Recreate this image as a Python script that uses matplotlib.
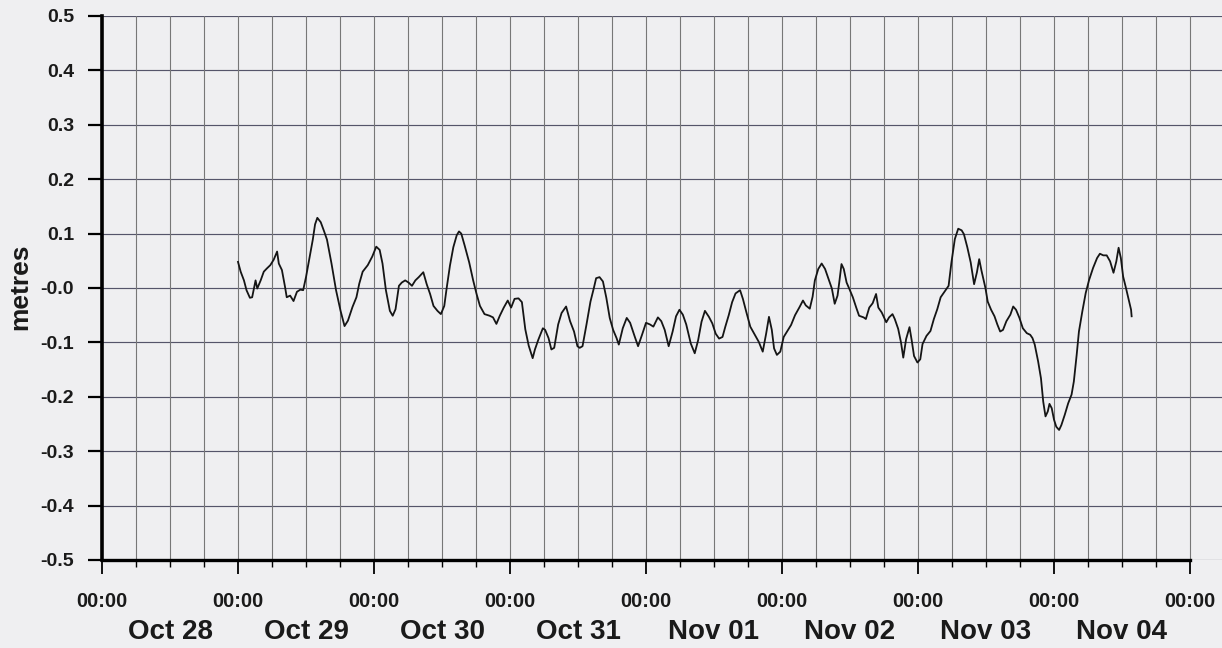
import matplotlib
matplotlib.use("Agg")
import matplotlib.pyplot as plt
import matplotlib.transforms as mtransforms
import numpy as np

plt.rcParams['font.family'] = ['Liberation Sans', 'DejaVu Sans']

# ---- data: hours since Oct 29 00:00, residual in metres ----
hours_from_oct29 = [
    0.0, 0.47, 1.05, 1.5, 2.1, 2.5, 3.1, 3.4, 4.0, 4.55, 5.1, 5.7, 6.3, 6.9, 7.2, 7.75,
    8.3, 8.6, 9.2, 9.8, 10.4, 11.0, 11.5, 12.0, 12.6, 13.2, 13.6, 14.0, 14.6, 15.2,
    15.7, 16.5, 17.3, 18.1, 18.8, 19.4, 20.2, 20.9, 21.4, 22.0, 22.9, 23.7, 24.4,
    25.0, 25.5, 26.1,
    26.8, 27.3, 27.8, 28.4, 28.9, 29.5, 30.1, 30.7, 31.3, 31.9, 32.7, 33.3, 33.9,
    34.5, 35.2, 35.8, 36.4, 36.8, 37.4, 38.0, 38.6, 39.0, 39.4, 40.0, 40.8, 41.5,
    42.1, 42.7, 43.5, 44.4, 45.0, 45.6, 46.2, 46.9, 47.6, 48.2, 48.8, 49.5, 50.1,
    50.7, 51.3,
    52.0, 52.4, 53.0, 53.8, 54.2, 54.8, 55.3, 55.8, 56.5, 57.1, 57.9, 58.6, 59.3,
    59.9, 60.3, 60.8, 61.5, 62.2, 62.8, 63.2, 63.8, 64.4, 65.0, 65.6, 66.2, 66.8,
    67.2, 67.9, 68.6, 69.2, 70.0, 70.6, 71.3, 72.0, 72.7, 73.3, 74.1, 74.7, 75.3,
    76.0, 76.7, 77.3, 77.9, 78.5, 79.1,
    79.9, 80.6, 81.2, 81.8, 82.4, 83.1, 83.7, 84.3, 84.9, 85.5, 86.0, 86.6, 87.2,
    87.8, 88.6, 89.1, 89.7, 90.4, 91.1, 91.9, 92.6, 93.2, 93.7, 94.2, 94.6, 95.1,
    95.7, 96.3, 96.9, 97.6, 98.3, 99.1, 99.7, 100.2, 100.9, 101.4, 101.8, 102.4,
    103.0, 103.6, 104.2, 104.8,
    105.3, 105.8, 106.1, 106.5, 106.9, 107.4, 107.9, 108.5, 109.1, 109.6, 110.4,
    110.8, 111.4, 112.0, 112.6, 113.0, 113.6, 114.4, 114.9, 115.5, 115.9, 116.5,
    117.0, 117.4, 117.9, 118.5, 118.9, 119.3, 119.9, 120.4, 120.8, 121.5, 122.2,
    122.8, 123.4, 124.0, 124.6, 125.4, 125.9, 126.5, 127.1, 127.7, 128.1, 128.7,
    129.3, 129.9, 130.4, 130.8, 131.2,
    131.9, 132.3, 132.9, 133.5, 134.0, 134.5, 135.0, 135.6, 136.3, 136.8, 137.3,
    137.9, 138.5, 139.2, 139.8, 140.2, 140.6, 141.2, 141.7, 142.1, 142.5, 142.9,
    143.2, 143.6, 144.0, 144.4, 144.9, 145.3, 145.9, 146.5, 147.1, 147.5, 148.0,
    148.4, 149.0, 149.6, 150.2, 150.9, 151.6, 152.1, 152.7, 153.3, 153.9, 154.5,
    155.0, 155.4, 155.8, 156.2, 156.7, 157.1, 157.6, 157.7,
]
residual_m = [
    0.048, 0.030, 0.014, -0.004, -0.018, -0.017, 0.014, -0.001, 0.014, 0.030, 0.036,
    0.042, 0.052, 0.067, 0.045, 0.033, 0.002, -0.017, -0.014, -0.024, -0.007, -0.003,
    -0.004, 0.020, 0.055, 0.089, 0.117, 0.129, 0.121, 0.104, 0.089, 0.045, -0.004,
    -0.042, -0.070, -0.060, -0.035, -0.017, 0.008, 0.030, 0.042, 0.058, 0.076,
    0.070, 0.045, -0.004,
    -0.042, -0.051, -0.039, 0.004, 0.010, 0.014, 0.010, 0.004, 0.014, 0.020, 0.029,
    0.007, -0.011, -0.033, -0.042, -0.048, -0.033, -0.002, 0.041, 0.075, 0.097,
    0.104, 0.100, 0.078, 0.047, 0.014, -0.011, -0.033, -0.048, -0.051, -0.054,
    -0.066, -0.051, -0.036, -0.023, -0.036, -0.020, -0.019, -0.026, -0.076, -0.106,
    -0.129, -0.113, -0.095, -0.074, -0.077, -0.092, -0.113, -0.110, -0.067, -0.046,
    -0.034, -0.061, -0.080, -0.107, -0.110, -0.107, -0.067, -0.025, 0.000, 0.018,
    0.020, 0.012, -0.018, -0.055, -0.077, -0.092, -0.104, -0.074, -0.055, -0.064,
    -0.089, -0.107, -0.086, -0.064, -0.067, -0.071, -0.054, -0.061, -0.077, -0.107,
    -0.080, -0.052, -0.040, -0.049, -0.067,
    -0.102, -0.120, -0.096, -0.062, -0.042, -0.053, -0.065, -0.084, -0.093, -0.090,
    -0.071, -0.050, -0.026, -0.010, -0.004, -0.020, -0.044, -0.071, -0.084, -0.099,
    -0.117, -0.084, -0.053, -0.077, -0.111, -0.123, -0.117, -0.090, -0.080, -0.068,
    -0.050, -0.035, -0.023, -0.032, -0.038, -0.016, 0.014, 0.035, 0.045, 0.035,
    0.017, -0.001,
    -0.029, -0.014, 0.010, 0.044, 0.035, 0.010, -0.002, -0.017, -0.036, -0.051,
    -0.054, -0.057, -0.036, -0.028, -0.011, -0.036, -0.045, -0.063, -0.054, -0.048,
    -0.057, -0.075, -0.100, -0.128, -0.094, -0.072, -0.097, -0.125, -0.137, -0.131,
    -0.103, -0.088, -0.079, -0.057, -0.039, -0.017, -0.008, 0.004, 0.047, 0.090,
    0.109, 0.106, 0.099, 0.075, 0.047, 0.007, 0.029, 0.053, 0.032,
    0.000, -0.025, -0.040, -0.052, -0.067, -0.080, -0.077, -0.061, -0.049, -0.034,
    -0.040, -0.055, -0.074, -0.083, -0.086, -0.092, -0.104, -0.135, -0.166, -0.209,
    -0.236, -0.227, -0.213, -0.221, -0.242, -0.255, -0.261, -0.252, -0.233, -0.212,
    -0.196, -0.172, -0.123, -0.080, -0.043, -0.009, 0.015, 0.037, 0.055, 0.063,
    0.060, 0.060, 0.049, 0.028, 0.049, 0.074, 0.055, 0.021, 0.000, -0.018, -0.040,
    -0.052,
]

day_labels = ["Oct 28", "Oct 29", "Oct 30", "Oct 31", "Nov 01", "Nov 02", "Nov 03", "Nov 04"]
y_ticks = [0.5, 0.4, 0.3, 0.2, 0.1, 0.0, -0.1, -0.2, -0.3, -0.4, -0.5]
y_tick_labels = ["0.5", "0.4", "0.3", "0.2", "0.1", "-0.0", "-0.1", "-0.2", "-0.3", "-0.4", "-0.5"]
time_tick_label = "00:00"

# x in days since Oct 28 00:00
x_days = 1.0 + np.asarray(hours_from_oct29) / 24.0
n_days = len(day_labels)

bg = "#efeff1"
fig = plt.figure(figsize=(12.22, 6.48), dpi=100, facecolor=bg)
W, H = 1222, 648
ax = fig.add_axes([102 / W, 1 - 560 / H, (1222 - 102) / W, (560 - 16) / H])
ax.set_facecolor(bg)

x_right = n_days * (1222 - 102) / (1190 - 102)
ax.set_xlim(0, x_right)
ax.set_ylim(-0.5, 0.5)

# gridlines
for yv in y_ticks:
    ax.axhline(yv, color="#55556a", lw=0.85, zorder=1)
six_hour = np.arange(0, n_days + 1e-9, 0.25)
for xv in six_hour:
    ax.axvline(xv, color="#777777", lw=0.8, zorder=1)

ax.plot(x_days, residual_m, color="#151515", lw=1.3, zorder=3)

# spines
for s in ("top", "right"):
    ax.spines[s].set_visible(False)
ax.spines["left"].set_linewidth(2.6)
ax.spines["bottom"].set_linewidth(2.4)
ax.spines["bottom"].set_bounds(0, n_days)
ax.spines["left"].set_zorder(4)
ax.spines["bottom"].set_zorder(4)

# y ticks
ax.set_yticks(y_ticks)
ax.set_yticklabels(y_tick_labels, fontsize=14, fontweight="bold", color="#1a1a1a")
ax.tick_params(axis="y", direction="out", length=10, width=1.6, pad=10)

# x ticks
ax.set_xticks(np.arange(0, n_days + 1))
ax.set_xticklabels([time_tick_label] * (n_days + 1), fontsize=14.5, fontweight="bold", color="#1a1a1a")
ax.set_xticks(six_hour, minor=True)
ax.tick_params(axis="x", which="major", direction="out", length=10, width=1.3, pad=13)
ax.tick_params(axis="x", which="minor", direction="out", length=5, width=1.0)

trans = mtransforms.blended_transform_factory(ax.transData, fig.transFigure)
for i, lab in enumerate(day_labels):
    ax.text(i + 0.5, 1 - 632 / H, lab, transform=trans, ha="center", va="center",
            fontsize=20, fontweight="bold", color="#1a1a1a")

fig.text(20 / W, 1 - 287 / H, "metres", rotation=90, ha="center", va="center",
         fontsize=19, fontweight="bold", color="#1a1a1a")

fig.savefig("out.png", dpi=100, facecolor=bg)
